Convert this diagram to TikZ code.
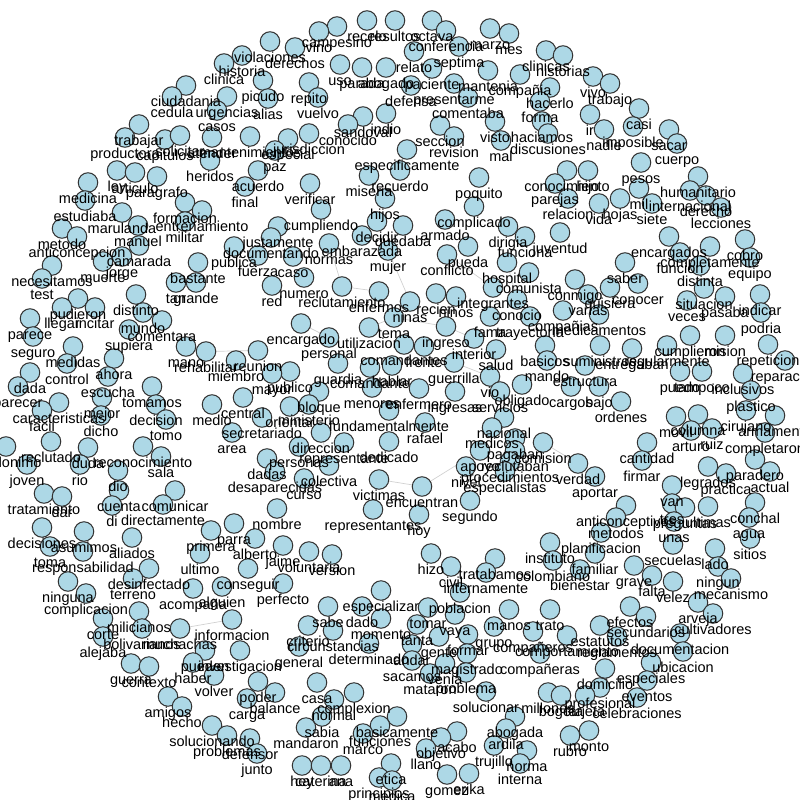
\documentclass[tikz,border=0pt]{standalone}
\usepackage{fontspec}
\setmainfont{Liberation Sans}
\usetikzlibrary{backgrounds}

\definecolor{nodefill}{RGB}{173,216,230}
\definecolor{nodeline}{RGB}{51,51,51}

% x/y = центр подписи, кружок на 16.5 выше
\def\wordlist{337/43/campesino, 319/48/vino, 367/37/recelo, 395/37/resultos, 432/37/octava, 446/47/conferencia,
490/45/marzo, 509/50/mes, 270/58/violaciones, 295/64/derechos, 242/72/historia, 224/80/clinica,
459/63/septima, 414/68/relato, 546/67/clinicas, 563/72/historias, 340/81/uso, 362/84/parada,
386/84/abogado, 432/85/paciente, 488/87/mantenia, 520/91/compañia, 550/104/hacerlo, 593/93/vivo,
610/100/trabajo, 186/102/ciudadania, 263/97/picudo, 309/99/repito, 411/102/defensa, 454/100/presentarme,
172/113/cedula, 227/113/urgencias, 268/115/alias, 318/114/vuelvo, 468/114/comentaba, 540/118/forma,
639/125/casi, 217/127/casos, 590/131/ir, 363/133/sandoval, 386/130/indio, 542/138/haciamos,
495/138/visto, 139/141/trabajar, 348/141/conocido, 440/142/seccion, 633/143/imposible, 669/146/sacar,
604/146/nadie, 548/150/discusiones, 309/150/jurisdiccion, 454/153/revision, 125/154/productora,
165/156/capitulos, 180/152/solicitar, 212/154/atender, 250/153/mantenimientos, 288/155/especial,
501/157/mal, 677/160/cuerpo, 275/167/paz, 407/166/especificamente, 210/177/heridos, 641/179/pesos,
567/187/conocimiento, 588/187/hijo, 258/187/acuerdo, 400/187/recuerdo, 117/187/ley, 135/189/articulo,
369/192/miseria, 698/193/humanitario, 157/193/paragrafo, 479/194/poquito, 88/199/medicina,
310/200/verificar, 555/200/parejas, 245/203/final, 690/207/internacional, 639/205/mil, 706/212/derecho,
568/215/relacion, 620/215/hojas, 385/215/hijos, 599/220/vida, 652/220/siete, 85/217/estudiaba,
185/219/formacion, 474/223/complicado, 721/224/lecciones, 321/226/cumpliendo, 202/227/entrenamiento,
122/229/marulanda, 445/236/armado, 185/238/militar, 377/238/decidir, 138/242/manuel, 403/242/quedaba,
508/243/dirigia, 278/243/justamente, 62/245/metodo, 560/249/juventud, 362/252/embarazada,
525/253/funciona, 77/253/anticoncepcion, 669/253/encargados, 271/254/documentando, 745/256/cobro,
329/260/normas, 139/262/camarada, 468/263/pueda, 234/263/publica, 710/263/completamente, 388/267/mujer,
680/269/funcion, 447/271/conflicto, 258/272/fuerza, 293/273/caso, 122/273/jorge, 750/274/equipo,
103/278/muerte, 507/279/hospital, 198/279/bastante, 625/279/saber, 52/282/necesitamos, 700/282/distinta,
529/289/comunista, 304/294/numero, 42/295/test, 575/296/conmigo, 176/299/tan, 196/299/grande,
638/300/conocer, 272/302/red, 342/303/reclutamiento, 493/304/integrantes, 610/304/quisiera,
704/305/situacion, 379/308/enfermos, 436/310/recien, 136/311/distinto, 588/311/varias, 760/311/indicar,
725/313/pasaba, 456/313/ninos, 78/315/pudieron, 517/316/conocio, 687/317/veces, 410/318/ninas,
62/324/llegar, 95/324/incitar, 599/331/medicamentos, 143/329/mundo, 761/329/podria, 563/327/compañias,
490/333/fama, 530/333/trayectoria, 394/334/tema, 30/335/parece, 162/337/comentara, 301/340/encargado,
446/343/ingreso, 369/344/utilizacion, 129/346/supiera, 33/353/seguro, 690/352/cumplieron, 725/352/mision,
329/354/personal, 474/355/interior, 404/361/comandantes, 768/361/repeticion, 545/362/basicos,
600/362/suministros, 632/365/entregaban, 667/362/regularmente, 424/363/frente, 73/363/medidas,
186/363/mano, 496/366/salud, 258/367/reunion, 206/368/rehabilitar, 114/375/ahora, 236/377/miembro,
547/377/mando, 785/377/reparacion, 454/379/guerrilla, 67/380/control, 338/380/guardia,
370/384/comandante, 392/382/hablar, 585/382/estructura, 680/388/puedo, 702/388/tampoco,
290/388/publico, 272/390/mayor, 30/389/dada, 743/390/inclusivos, 490/393/vio, 108/393/escucha,
522/401/obligado, 18/403/parecer, 152/403/tomamos, 571/403/cargos, 599/403/bajo, 372/404/menores,
419/405/enfermero, 751/407/plastico, 500/408/servicios, 455/408/ingresas, 319/408/bloque, 102/414/mejor,
243/414/central, 621/418/ordenes, 59/419/caracteristicas, 309/421/ministerio, 156/421/decision,
212/421/medio, 290/423/orientar, 746/427/cirujano, 42/427/facil, 389/427/fundamentalmente,
698/431/columna, 101/432/dicho, 775/432/armamento, 676/433/movil, 262/434/secretariado,
504/434/nacional, 166/436/tomo, 425/439/rafael, 492/444/medicos, 712/445/ruiz, 691/447/arturo,
232/449/area, 321/449/direccion, 765/449/completaron, 515/455/pagaban, 51/458/reclutado,
344/459/representante, 389/458/dedicado, 543/459/comision, 647/459/cantidad, 299/463/personas,
6/463/seudonimo, 143/463/reconocimiento, 88/464/duda, 480/467/apoyo, 515/467/reclutaban, 161/473/sala,
267/475/dadas, 755/476/paradero, 642/477/firmar, 510/478/procedimientos, 578/480/verdad, 27/481/joven,
80/481/rio, 329/482/colectiva, 466/483/nivel, 708/483/legrados, 118/487/dio, 275/488/desaparecidas,
505/488/especialistas, 770/488/actual, 726/490/practica, 595/493/aportar, 304/495/curso,
379/496/victimas, 672/502/van, 422/503/encuentran, 119/507/cuenta, 175/507/comunicar,
44/510/tratamiento, 62/513/dar, 470/517/segundo, 755/519/conchal, 672/520/tres, 112/522/di,
163/521/directamente, 626/522/anticonceptivos, 685/524/preguntas, 708/523/ultimas, 277/525/nombre,
373/526/representantes, 419/531/hoy, 616/534/metodos, 749/534/agua, 674/538/unas, 234/540/parra,
42/544/decisiones, 211/547/primera, 84/548/asumimos, 601/549/planificacion, 132/554/aliados,
255/555/alberto, 750/555/sitios, 550/559/instituto, 673/561/secuelas, 283/562/jaime, 50/563/toma,
715/565/lado, 83/568/responsabilidad, 309/568/voluntaria, 431/570/hizo, 595/570/familiar, 200/570/ultimo,
332/571/version, 495/575/tratabamos, 553/577/colombiano, 634/582/grave, 451/583/civil, 718/583/ningun,
248/585/conseguir, 149/585/desinfectado, 580/586/bienestar, 486/589/internamente, 652/592/falta,
133/595/terreno, 731/595/mecanismo, 673/598/velez, 68/598/ninguna, 283/600/perfecto, 222/603/alguien,
193/605/acompaña, 381/607/especializar, 460/609/poblacion, 86/610/complicacion, 698/619/arveja,
630/623/efectos, 328/623/sabe, 362/623/dado, 428/624/tomar, 509/626/manos, 550/626/trato,
139/628/milicianos, 455/631/vaya, 713/630/cultivadores, 646/633/secundarios, 381/635/momento,
103/635/corte, 232/636/informacion, 417/641/tanta, 308/642/criterio, 600/642/estatutos, 494/643/grupo,
142/645/bolivarianos, 180/645/muchachas, 333/647/circunstancias, 533/648/compañeros,
680/650/documentacion, 468/651/formar, 567/652/comportamiento, 439/653/gente, 617/653/reglamentos,
103/653/alejaba, 369/660/determinado, 412/661/andar, 299/663/general, 205/667/pueden,
240/667/investigacion, 683/668/ubicacion, 540/670/compañeras, 467/670/magistrado, 412/677/sacamos,
193/679/haber, 651/679/especiales, 131/680/guerra, 445/680/venia, 149/683/contexto, 605/685/domicilio,
466/689/problema, 430/690/mataron, 214/692/volver, 647/697/eventos, 258/698/poder, 317/699/casa,
600/704/profesional, 486/708/solucionar, 548/709/millones, 354/709/complexion, 275/709/balance,
561/712/bogota, 585/712/tarjeta, 168/713/amigos, 637/714/celebraciones, 247/715/carga, 334/716/normal,
182/723/hecho, 322/733/sabia, 397/733/basicamente, 515/733/abogada, 212/742/solucionando,
380/742/funciones, 306/744/mandaron, 506/745/ardila, 589/747/monto, 457/748/acabo, 363/750/marco,
227/752/problemas, 570/752/rubro, 441/754/objetivo, 250/755/defensor, 494/762/trujillo, 426/765/llano,
527/767/norma, 257/770/junto, 391/780/etica, 520/780/interna, 302/782/hey, 321/782/caterina,
341/782/ana, 469/790/erika, 447/791/gomez, 379/794/principios, 392/797/medica}

\begin{document}
\begin{tikzpicture}[x=1pt, y=-1pt,
		word/.style={circle, draw=nodeline, fill=nodefill, line width=1pt, minimum size=19.5pt, inner sep=0pt},
		lbl/.style={font=\fontsize{14.5}{16}\selectfont, inner sep=0pt, anchor=base},
		edge/.style={draw=black!18, line width=0.7pt}]
	\useasboundingbox (0,0) rectangle (800,800);
	
	\foreach \x/\y/\w in \wordlist
		\node[word] (\w) at (\x,\y-16.5) {}; % кружки
	\foreach \x/\y/\w in \wordlist
		\node[lbl] (t-\w) at (\x,\y+4.5) {\w}; % подписи поверх
	
	\begin{scope}[on background layer]
		\draw[edge] (mujer) -- (ninas);
		\draw[edge] (reclutamiento) -- (enfermos);
		\draw[edge] (normas) -- (reclutamiento);
		\draw[edge] (utilizacion) -- (tema);
		\draw[edge] (tema) -- (ingreso);
		\draw[edge] (ingreso) -- (interior);
		\draw[edge] (comandantes) -- (frente);
		\draw[edge] (guerrilla) -- (vio);
		\draw[edge] (victimas) -- (encuentran);
		\draw[edge] (encuentran) -- (apoyo);
		\draw[edge] (rehabilitar) -- (reunion);
		\draw[edge] (compañias) -- (medicamentos);
		\draw[edge] (medicamentos) -- (suministros);
		\draw[edge] (conflicto) -- (integrantes);
		\draw[edge] (personal) -- (encargado);
		\draw[edge] (hospital) -- (conocio);
		\draw[edge] (comision) -- (verdad);
		\draw[edge] (salud) -- (servicios);
		\draw[edge] (direccion) -- (colectiva);
		\draw[edge] (informacion) -- (muchachas);
	\end{scope}
\end{tikzpicture}
\end{document}
